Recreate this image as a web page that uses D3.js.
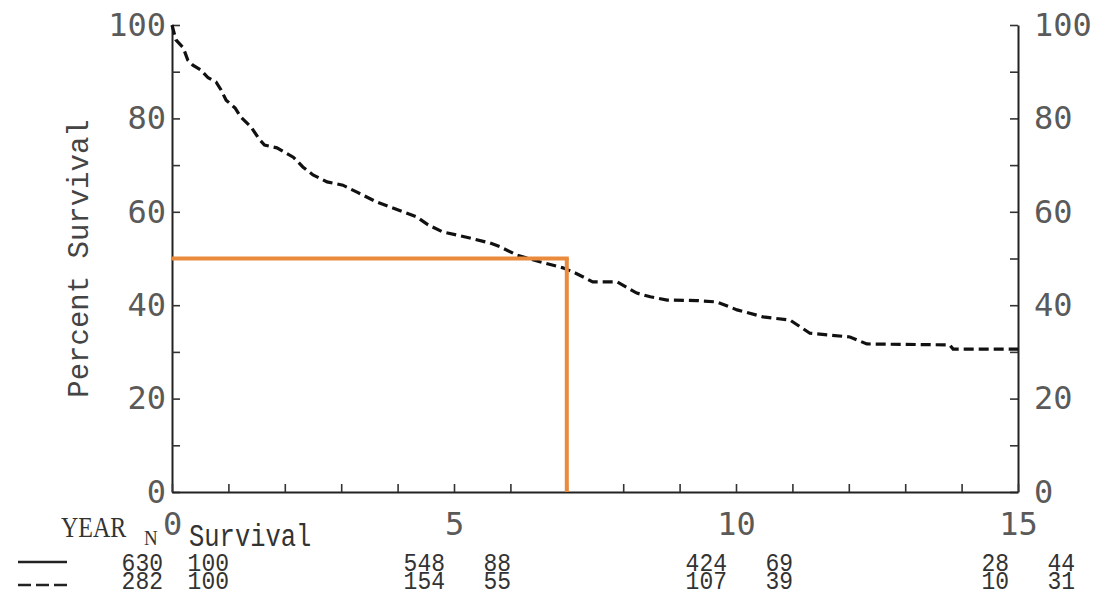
<!DOCTYPE html>
<html>
<head>
<meta charset="utf-8">
<script src="https://cdn.jsdelivr.net/npm/d3@7"></script>
<style>
  html, body { margin: 0; padding: 0; background: #fff; }
  svg { display: block; }
</style>
</head>
<body>
<svg id="chart" width="1095" height="598"></svg>
<script>
// ---- data ----
const yTicks = [0, 10, 20, 30, 40, 50, 60, 70, 80, 90, 100];
const yLabelTicks = [0, 20, 40, 60, 80, 100];
const xTicks = [0,1,2,3,4,5,6,7,8,9,10,11,12,13,14,15];
const xLabelTicks = [0, 5, 10, 15];

// dashed survival curve (year, percent)
const dashedTime = [0, 0.07, 0.2, 0.28, 0.37, 0.51, 0.64, 0.78, 0.87, 0.96, 1.12, 1.22, 1.4, 1.55, 1.64, 1.86, 2.15, 2.32, 2.5, 2.75, 3.03, 3.28, 3.63, 3.87, 4.1, 4.34, 4.54, 4.8, 5.28, 5.64, 5.82, 6.12, 6.52, 6.93, 7.15, 7.46, 7.89, 8.24, 8.48, 8.78, 9.3, 9.66, 10.02, 10.48, 10.96, 11.31, 12.02, 12.32, 13.79, 13.85, 15];
const dashedSurv = [100, 96.8, 95.1, 92.5, 91.4, 90.4, 88.7, 87.8, 86.1, 83.9, 82.2, 80.3, 78.2, 75.5, 74.3, 73.7, 71.7, 69.6, 67.9, 66.4, 65.7, 64.2, 62.1, 61, 60, 58.9, 57.2, 55.7, 54.4, 53.3, 52.5, 50.7, 49.3, 48, 46.9, 45, 45, 42.6, 41.8, 41.1, 41, 40.7, 39, 37.5, 36.8, 34, 33.2, 31.7, 31.5, 30.6, 30.6];

// median marker (orange)
const medianYear = 7.0;
const medianSurv = 50;

// at-risk table
const tableYears = [0, 5, 10, 15];
const solidN = [630, 548, 424, 28];
const solidS = [100, 88, 69, 44];
const dashedN = [282, 154, 107, 10];
const dashedS = [100, 55, 39, 31];

// ---- drawing ----
const svg = d3.select("#chart");
svg.append("rect").attr("width", 1095).attr("height", 598).attr("fill", "#fff");

const x = d3.scaleLinear().domain([0, 15]).range([172, 1018]);
const y = d3.scaleLinear().domain([0, 100]).range([492, 25]);

const tickFont = "'DejaVu Sans Mono', monospace";
const monoFont = "'Liberation Mono', 'Courier New', monospace";
const serifFont = "'Liberation Serif', 'Times New Roman', serif";

function styleAxis(g) {
  g.select(".domain").attr("stroke", "#222").attr("stroke-width", 2);
  g.selectAll(".tick line").attr("stroke", "#333").attr("stroke-width", 1.6);
  g.selectAll(".tick text").attr("fill", "#5a5a5a").attr("font-family", tickFont).attr("font-size", 32);
}

const labFmt = d => yLabelTicks.includes(d) ? d : "";
// left axis
svg.append("g").attr("transform", `translate(${x(0)},0)`)
  .call(d3.axisLeft(y).tickValues(yTicks).tickFormat(labFmt).tickSizeInner(-8).tickSizeOuter(0).tickPadding(6))
  .call(styleAxis);
// right axis
svg.append("g").attr("transform", `translate(${x(15)},0)`)
  .call(d3.axisRight(y).tickValues(yTicks).tickFormat(labFmt).tickSizeInner(-8).tickSizeOuter(0).tickPadding(16))
  .call(styleAxis);
// bottom axis
svg.append("g").attr("transform", `translate(0,${y(0)})`)
  .call(d3.axisBottom(x).tickValues(xTicks).tickFormat(d => xLabelTicks.includes(d) ? d : "").tickSizeInner(-8).tickSizeOuter(0).tickPadding(20))
  .call(styleAxis);

// y-axis title
svg.append("text")
  .attr("transform", `translate(88,${(y(0)+y(100))/2}) rotate(-90)`)
  .attr("text-anchor", "middle")
  .attr("font-family", monoFont).attr("font-size", 29).attr("fill", "#444")
  .text("Percent Survival");

// dashed curve
const curveData = dashedTime.map((t, i) => [t, dashedSurv[i]]);
svg.append("path")
  .datum(curveData)
  .attr("fill", "none")
  .attr("stroke", "#111")
  .attr("stroke-width", 3.2)
  .attr("stroke-dasharray", "10,5")
  .attr("d", d3.line().x(d => x(d[0])).y(d => y(d[1])));

// orange median lines
const orange = "#EA8A3C";
svg.append("path")
  .attr("fill", "none").attr("stroke", orange).attr("stroke-width", 4)
  .attr("d", d3.line()([[x(0), y(medianSurv)], [x(medianYear) + 2, y(medianSurv)]]));
svg.append("path")
  .attr("fill", "none").attr("stroke", orange).attr("stroke-width", 4)
  .attr("d", d3.line()([[x(medianYear), y(medianSurv)], [x(medianYear), y(0)]]));

// table headers
svg.append("text").attr("transform", "translate(61,537) scale(1,1.2)")
  .attr("font-family", serifFont).attr("font-size", 24).attr("fill", "#333").text("YEAR");
svg.append("text").attr("transform", "translate(144,545) scale(1,1.15)")
  .attr("font-family", serifFont).attr("font-size", 19).attr("fill", "#333").text("N");
svg.append("text").attr("transform", "translate(189,546) scale(1,1.2)")
  .attr("font-family", monoFont).attr("font-size", 25.5).attr("fill", "#333").text("Survival");

// legend lines
svg.append("line").attr("x1", 18).attr("x2", 67).attr("y1", 562).attr("y2", 562)
  .attr("stroke", "#222").attr("stroke-width", 2.5);
svg.append("line").attr("x1", 18).attr("x2", 67).attr("y1", 585).attr("y2", 585)
  .attr("stroke", "#222").attr("stroke-width", 2.5).attr("stroke-dasharray", "13,5");

// table values
function row(nArr, sArr, baseY) {
  tableYears.forEach((yr, i) => {
    svg.append("text")
      .attr("transform", `translate(${x(yr) - 9},${baseY}) scale(1,1.15)`)
      .attr("text-anchor", "end")
      .attr("font-family", monoFont).attr("font-size", 23).attr("fill", "#333")
      .text(nArr[i]);
    svg.append("text")
      .attr("transform", `translate(${x(yr) + 57},${baseY}) scale(1,1.15)`)
      .attr("text-anchor", "end")
      .attr("font-family", monoFont).attr("font-size", 23).attr("fill", "#333")
      .text(sArr[i]);
  });
}
row(solidN, solidS, 571);
row(dashedN, dashedS, 589);
</script>
</body>
</html>
